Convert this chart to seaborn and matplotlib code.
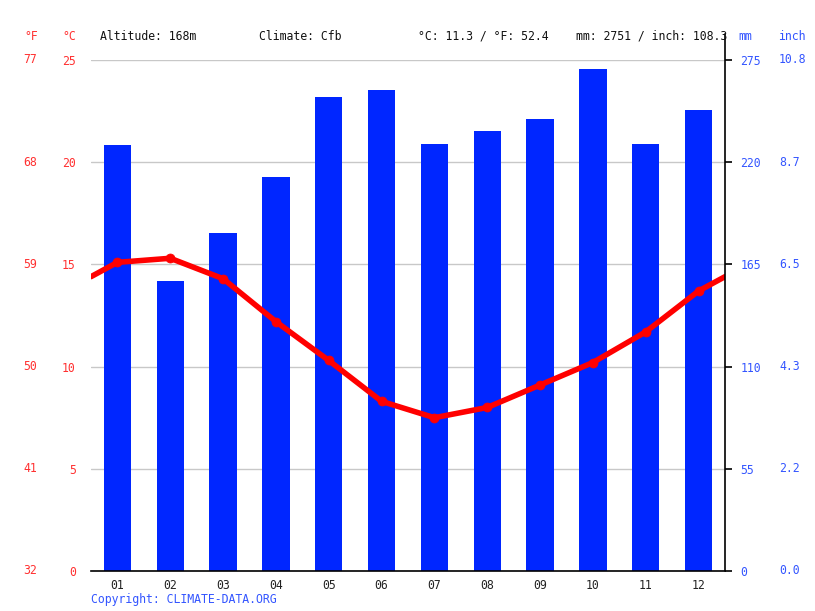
import matplotlib
matplotlib.use("Agg")
import matplotlib.pyplot as plt
import matplotlib.transforms as mtrans
import numpy as np
import pandas as pd
import seaborn as sns

months = ["01", "02", "03", "04", "05", "06", "07", "08", "09", "10", "11", "12"]
precip_mm = [229, 156, 182, 212, 255, 259, 230, 237, 243, 270, 230, 248]
temp_c = [15.1, 15.3, 14.3, 12.2, 10.3, 8.3, 7.5, 8.0, 9.1, 10.2, 11.7, 13.7]
c_ticks = [0, 5, 10, 15, 20, 25]
f_labels = ["32", "41", "50", "59", "68", "77"]
mm_ticks = [0, 55, 110, 165, 220, 275]
inch_labels = ["0.0", "2.2", "4.3", "6.5", "8.7", "10.8"]
altitude = "168m"
climate = "Cfb"

sns.set_style("white")
plt.rcParams["font.family"] = ["DejaVu Sans Mono", "DejaVu Sans"]
FS = 8.3
RED = "#ff0000"
RED_TXT = "#ff3030"
BLUE = "#0026ff"
BLUE_TXT = "#3355ff"

df = pd.DataFrame({"month": months, "mm": precip_mm, "temp": temp_c})

fig = plt.figure(figsize=(8.15, 6.11), dpi=100)
W, H = 815, 611
x0, x1, ytop, ybot = 91, 725, 60, 571
ax2 = fig.add_axes([x0 / W, (H - ybot) / H, (x1 - x0) / W, (ybot - ytop) / H])
ax = ax2.twinx()

# precipitation bars
sns.barplot(data=df, x="month", y="mm", color=BLUE, saturation=1, width=0.52,
            linewidth=0, ax=ax2)
ax2.set_ylim(0, 275)
ax2.set_xlim(-0.5, 11.5)
ax2.set_yticks(mm_ticks)
ax2.yaxis.grid(True, color="#c8c8c8", linewidth=1)
ax2.set_axisbelow(True)
ax2.set_xlabel("")
ax2.set_ylabel("")
ax2.yaxis.tick_right()
ax2.tick_params(axis="y", which="major", colors="black", labelcolor=BLUE_TXT,
                length=5, width=1.2, labelsize=FS, pad=6, direction="out")
ax2.set_xticks(range(12))
ax2.set_xticklabels(months)
ax2.tick_params(axis="x", which="major", length=0, labelsize=FS, labelcolor="#222222", pad=6)
ax2.set_xticks(np.arange(-0.5, 12, 1), minor=True)
ax2.tick_params(axis="x", which="minor", length=5, width=1.2, color="black")
for s in ["top", "left", "right"]:
    ax2.spines[s].set_visible(False)
ax2.spines["bottom"].set_color("black")
ax2.spines["bottom"].set_linewidth(1.2)

# temperature line (wraps around the year at both edges)
edge = (temp_c[0] + temp_c[-1]) / 2
line_x = [-0.5] + list(range(12)) + [11.5]
line_y = [edge] + temp_c + [edge]
sns.lineplot(x=line_x, y=line_y, color=RED, linewidth=4, ax=ax, sort=False)
sns.scatterplot(x=list(range(12)), y=temp_c, color=RED, s=42, edgecolor=RED, ax=ax, zorder=5)
ax.set_ylim(0, 25)
ax.set_xlim(-0.5, 11.5)
ax.yaxis.tick_left()
ax.set_yticks(c_ticks)
ax.set_yticklabels([str(v) for v in c_ticks])
ax.tick_params(axis="y", length=0, labelcolor=RED_TXT, labelsize=FS, pad=11)
ax.set_ylabel("")
for s in ax.spines.values():
    s.set_visible(False)
ax.set_zorder(ax2.zorder + 1)
ax.patch.set_visible(False)

# extra label columns (°F left, inch right)
tr_left = mtrans.blended_transform_factory(fig.transFigure, ax.transData)
for v, lab in zip(c_ticks, f_labels):
    fig.text(30 / W, v, lab, transform=tr_left, color=RED_TXT, fontsize=FS,
             ha="center", va="center")
tr_right = mtrans.blended_transform_factory(fig.transFigure, ax2.transData)
for v, lab in zip(mm_ticks, inch_labels):
    fig.text(779 / W, v, lab, transform=tr_right, color=BLUE_TXT, fontsize=FS,
             ha="left", va="center")

# right axis line reaching up into the header
fig.add_artist(plt.Line2D([x1 / W, x1 / W], [(H - ybot) / H, (H - 34) / H],
                          color="black", linewidth=1.2, transform=fig.transFigure))

# header
mean_c = np.mean(temp_c)
mean_f = mean_c * 9 / 5 + 32
total_mm = sum(precip_mm)
total_in = total_mm / 25.4
hy = (H - 36) / H
fig.text(31 / W, hy, "°F", color=RED_TXT, fontsize=FS, ha="center", va="center")
fig.text(69 / W, hy, "°C", color=RED_TXT, fontsize=FS, ha="center", va="center")
fig.text(100 / W, hy, f"Altitude: {altitude}", fontsize=FS, color="#111111", va="center")
fig.text(259 / W, hy, f"Climate: {climate}", fontsize=FS, color="#111111", va="center")
fig.text(418 / W, hy, f"°C: {mean_c:.1f} / °F: {mean_f:.1f}", fontsize=FS, color="#111111", va="center")
fig.text(576 / W, hy, f"mm: {total_mm} / inch: {total_in:.1f}", fontsize=FS, color="#111111", va="center")
fig.text(745 / W, hy, "mm", color=BLUE_TXT, fontsize=FS, ha="center", va="center")
fig.text(792 / W, hy, "inch", color=BLUE_TXT, fontsize=FS, ha="center", va="center")

fig.text(91 / W, (H - 599) / H, "Copyright: CLIMATE-DATA.ORG", color=BLUE_TXT, fontsize=FS, va="center")

fig.savefig("out.png", dpi=100)
